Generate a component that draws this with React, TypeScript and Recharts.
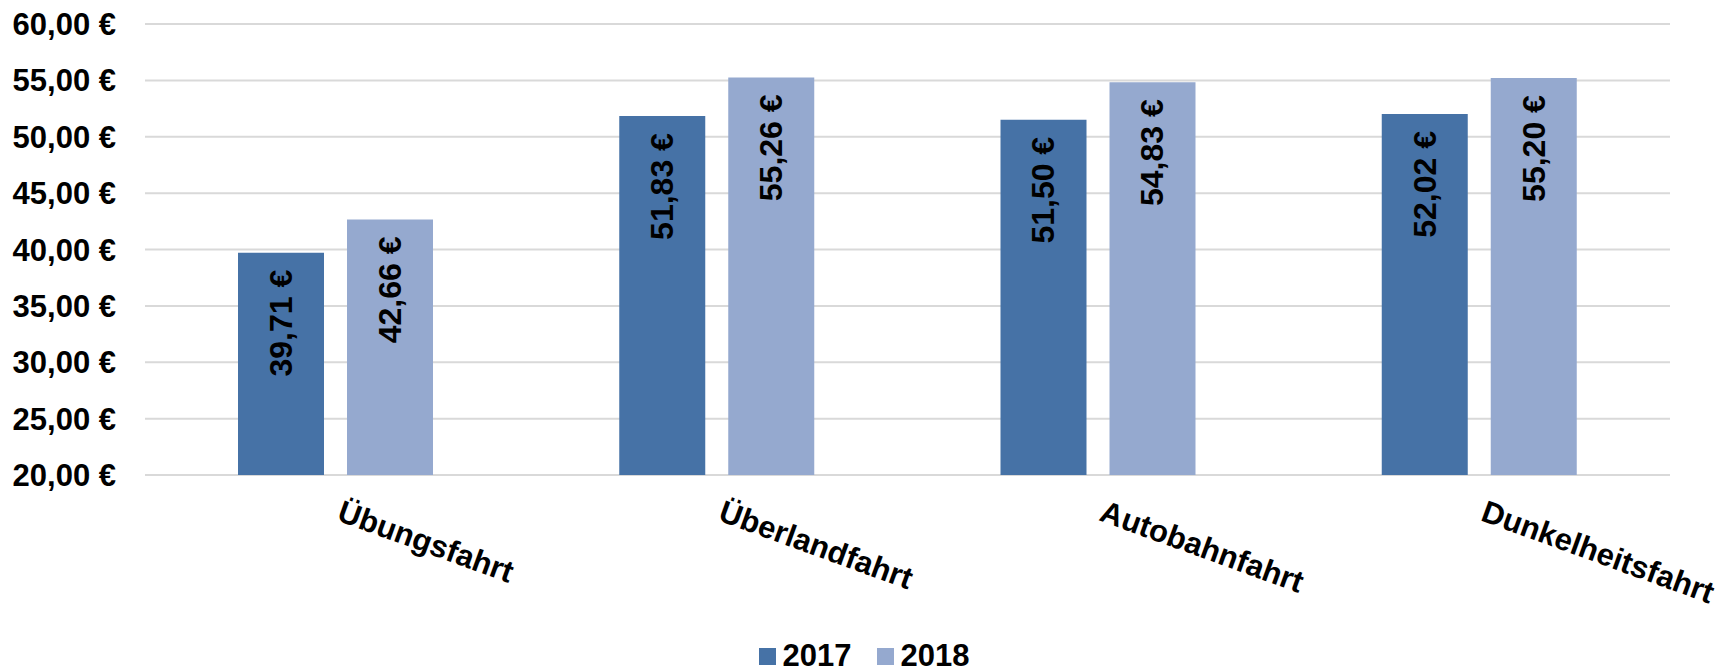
import { BarChart, Bar, XAxis, YAxis, CartesianGrid, Legend, LabelList } from 'recharts'

const categories = ['Übungsfahrt', 'Überlandfahrt', 'Autobahnfahrt', 'Dunkelheitsfahrt']
const values2017 = [39.71, 51.83, 51.5, 52.02]
const values2018 = [42.66, 55.26, 54.83, 55.2]
const yTicks = [20, 25, 30, 35, 40, 45, 50, 55, 60]

const data = categories.map((name, i) => ({ name, y2017: values2017[i], y2018: values2018[i] }))

const FONT = '"Liberation Sans", Arial, sans-serif'
const C2017 = '#4672a6'
const C2018 = '#95a9cf'

const euro = (v: number) => v.toFixed(2).replace('.', ',') + ' €'

// Wert senkrecht oben in den Balken schreiben
const BarValue = (props: any) => {
  const { x, y, width, value } = props
  const cx = x + width / 2
  const ty = y + 17
  return (
    <text
      x={cx}
      y={ty}
      transform={`rotate(-90, ${cx}, ${ty})`}
      textAnchor="end"
      dominantBaseline="central"
      fontFamily={FONT}
      fontWeight="bold"
      fontSize={32}
      fill="#000"
    >
      {euro(value)}
    </text>
  )
}

const CategoryTick = (props: any) => {
  const { x, payload } = props
  const ty = 520
  return (
    <text
      x={x}
      y={ty}
      transform={`rotate(20, ${x}, ${ty})`}
      textAnchor="start"
      fontFamily={FONT}
      fontWeight="bold"
      fontSize={31}
      fill="#000"
    >
      {payload.value}
    </text>
  )
}

const LegendBox = () => (
  <div
    style={{
      display: 'flex',
      justifyContent: 'center',
      alignItems: 'center',
      height: 46,
      paddingTop: 16,
      paddingLeft: 58,
      boxSizing: 'border-box',
      fontFamily: FONT,
      fontWeight: 'bold',
      fontSize: 31,
      color: '#000',
    }}
  >
    {[
      { label: '2017', color: C2017 },
      { label: '2018', color: C2018 },
    ].map((s, i) => (
      <div key={s.label} style={{ display: 'flex', alignItems: 'center', marginLeft: i ? 25 : 0 }}>
        <div style={{ width: 17, height: 17, background: s.color, marginRight: 7 }} />
        <span>{s.label}</span>
      </div>
    ))}
  </div>
)

export default function App() {
  return (
    <div style={{ position: 'absolute', left: 0, top: 0, width: 1736, height: 671, background: '#fff' }}>
      <BarChart
        width={1736}
        height={671}
        data={data}
        margin={{ top: 24, right: 66, left: 0, bottom: 0 }}
        barGap={23}
      >
        <CartesianGrid vertical={false} stroke="#d9d9d9" strokeWidth={2} />
        <XAxis
          dataKey="name"
          axisLine={false}
          tickLine={false}
          height={150}
          interval={0}
          tick={<CategoryTick />}
        />
        <YAxis
          width={145}
          domain={[20, 60]}
          ticks={yTicks}
          allowDataOverflow
          axisLine={false}
          tickLine={false}
          tickSize={0}
          tickMargin={29}
          tickFormatter={euro}
          tick={{ fontFamily: FONT, fontWeight: 'bold', fontSize: 31, fill: '#000' }}
        />
        <Legend verticalAlign="bottom" height={46} content={<LegendBox />} />
        <Bar dataKey="y2017" name="2017" fill={C2017} barSize={86} isAnimationActive={false}>
          <LabelList dataKey="y2017" content={<BarValue />} />
        </Bar>
        <Bar dataKey="y2018" name="2018" fill={C2018} barSize={86} isAnimationActive={false}>
          <LabelList dataKey="y2018" content={<BarValue />} />
        </Bar>
      </BarChart>
    </div>
  )
}
